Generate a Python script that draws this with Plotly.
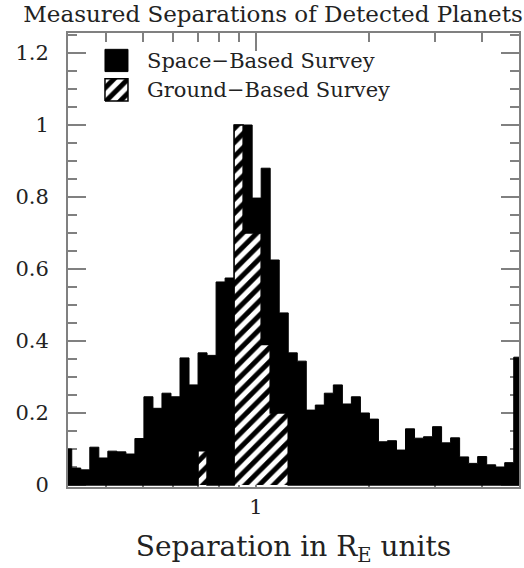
import numpy as np
import plotly.graph_objects as go

# ---- data (normalised histogram heights, log-uniform bins) ----
# bin edges in log10(separation / R_E)
log_edges = -0.514 + 0.024 * np.arange(52)
bin_edges = 10 ** log_edges

space_based = [0.10, 0.047, 0.042, 0.105, 0.075, 0.094, 0.092, 0.086, 0.129, 0.245,
               0.213, 0.255, 0.245, 0.353, 0.278, 0.367, 0.36, 0.564, 0.575, 1.0,
               1.0, 0.797, 0.88, 0.625, 0.478, 0.367, 0.344, 0.208, 0.222, 0.255,
               0.278, 0.225, 0.245, 0.2, 0.183, 0.12, 0.123, 0.097, 0.156, 0.13,
               0.134, 0.162, 0.117, 0.131, 0.078, 0.06, 0.079, 0.056, 0.05, 0.062,
               0.355]
ground_based = [0, 0, 0, 0, 0, 0, 0, 0, 0, 0,
                0, 0, 0, 0, 0, 0.095, 0, 0, 0, 1.0,
                0.70, 0.70, 0.39, 0.20, 0.20, 0, 0, 0, 0, 0,
                0, 0, 0, 0, 0, 0, 0, 0, 0, 0,
                0, 0, 0, 0, 0, 0, 0, 0, 0, 0,
                0]
series_names = ["Space\u2212Based Survey", "Ground\u2212Based Survey"]
x_tick_vals = [1]
x_tick_text = ["1"]
x_minor_vals = [0.4, 0.5, 0.6, 0.7, 0.8, 0.9, 2, 3, 4]
y_tick_vals = [0, 0.2, 0.4, 0.6, 0.8, 1.0, 1.2]
y_tick_text = ["0", "0.2", "0.4", "0.6", "0.8", "1", "1.2"]

FONT = "DejaVu Serif"
GRAY = "#808080"
TXT = "#222222"
HATCH = dict(shape="/", fgcolor="white", bgcolor="black", size=10, solidity=0.5,
             fgopacity=1)

xs = list(bin_edges)
ys_space = list(space_based) + [space_based[-1]]
ys_ground = list(ground_based) + [ground_based[-1]]

fig = go.Figure()
fig.add_trace(go.Scatter(
    x=xs, y=ys_space, mode="lines", line=dict(shape="hv", color="black", width=1),
    fill="tozeroy", fillcolor="black", showlegend=False, hoverinfo="skip"))
fig.add_trace(go.Scatter(
    x=xs, y=ys_ground, mode="lines", line=dict(shape="hv", color="black", width=1.5),
    fill="tozeroy", fillcolor="black", fillpattern=HATCH,
    showlegend=False, hoverinfo="skip"))

# legend swatches on an overlay paper-like axis
fig.add_trace(go.Scatter(
    x=[0.082, 0.133, 0.133, 0.082, 0.082], y=[0.915, 0.915, 0.964, 0.964, 0.915],
    xaxis="x2", yaxis="y2", mode="lines", line=dict(color="black", width=1),
    fill="toself", fillcolor="black", showlegend=False, hoverinfo="skip"))
fig.add_trace(go.Scatter(
    x=[0.082, 0.133, 0.133, 0.082, 0.082], y=[0.850, 0.850, 0.899, 0.899, 0.850],
    xaxis="x2", yaxis="y2", mode="lines", line=dict(color="black", width=1.5),
    fill="toself", fillcolor="black", fillpattern=HATCH,
    showlegend=False, hoverinfo="skip"))
for yy, name in zip([0.939, 0.874], series_names):
    fig.add_annotation(x=0.171, y=yy, xref="x2", yref="y2", text=name, showarrow=False,
                       xanchor="left", yanchor="middle",
                       font=dict(family=FONT, size=21, color=TXT))

fig.update_layout(
    width=524, height=568,
    margin=dict(l=68, r=5, t=33, b=81, autoexpand=False),
    paper_bgcolor="white", plot_bgcolor="white",
    showlegend=False,
    title=dict(text="Measured Separations of Detected Planets", x=0.521, xanchor="center",
               y=0.975, yanchor="middle", yref="container", automargin=False,
               font=dict(family=FONT, size=23, color=TXT)),
    xaxis=dict(type="log", range=[-0.5, 0.7], tickmode="array", tickvals=x_tick_vals,
               ticktext=x_tick_text, ticks="inside", ticklen=18, tickwidth=1.5,
               tickcolor=GRAY, showline=True, linecolor=GRAY, linewidth=2,
               mirror="ticks", showgrid=False, zeroline=False, layer="below traces",
               automargin=False,
               tickfont=dict(family=FONT, size=21, color=TXT),
               minor=dict(tickmode="array", tickvals=x_minor_vals, ticks="inside",
                          ticklen=9, tickwidth=1.5, tickcolor=GRAY, showgrid=False),
               title=dict(text="Separation in R<sub>E</sub> units", standoff=18,
                          font=dict(family=FONT, size=28, color=TXT))),
    yaxis=dict(range=[-0.0056, 1.2556], tickmode="array", tickvals=y_tick_vals,
               ticktext=y_tick_text, ticks="inside", ticklen=18, tickwidth=1.5,
               tickcolor=GRAY, showline=True, linecolor=GRAY, linewidth=2,
               mirror="ticks", showgrid=False, zeroline=False, layer="below traces",
               automargin=False, ticklabelstandoff=13,
               tickfont=dict(family=FONT, size=21, color=TXT),
               minor=dict(dtick=0.05, tick0=0, ticks="inside", ticklen=9, tickwidth=1.5,
                          tickcolor=GRAY, showgrid=False)),
    xaxis2=dict(overlaying="x", range=[0, 1], visible=False, automargin=False),
    yaxis2=dict(overlaying="y", range=[0, 1], visible=False, automargin=False),
)

fig.write_html("out.html", config={"displayModeBar": False},
               post_script="document.body.style.margin='0';document.body.style.overflow='hidden';")
